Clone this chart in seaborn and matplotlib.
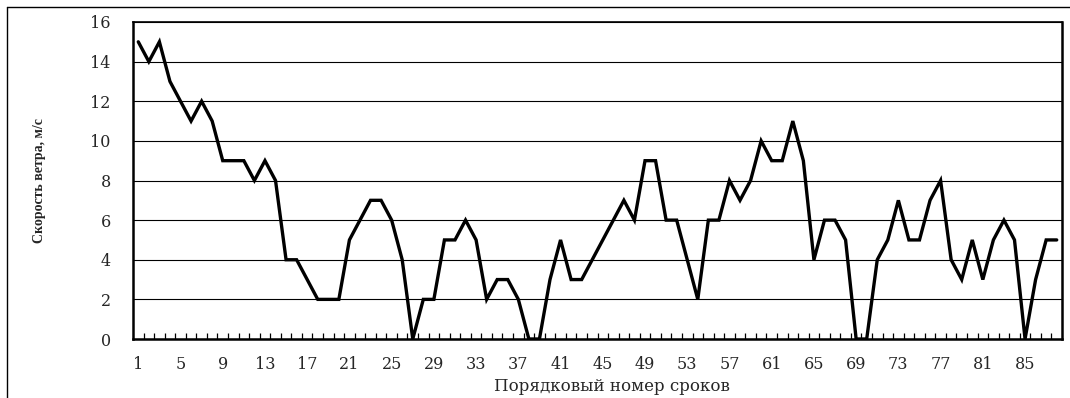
import numpy as np
import pandas as pd
import matplotlib
matplotlib.use("Agg")
import matplotlib.pyplot as plt
from matplotlib.lines import Line2D
import seaborn as sns

# Wind speed by observation number
term_number = list(range(1, 89))
wind_speed = [
    15, 14, 15, 13, 12, 11, 12, 11, 9, 9,
    9, 8, 9, 8, 4, 4, 3, 2, 2, 2,
    5, 6, 7, 7, 6, 4, 0, 2, 2, 5,
    5, 6, 5, 2, 3, 3, 2, 0, 0, 3,
    5, 3, 3, 4, 5, 6, 7, 6, 9, 9,
    6, 6, 4, 2, 6, 6, 8, 7, 8, 10,
    9, 9, 11, 9, 4, 6, 6, 5, 0, 0,
    4, 5, 7, 5, 5, 7, 8, 4, 3, 5,
    3, 5, 6, 5, 0, 3, 5, 5,
]
x_tick_labels = [str(n) for n in range(1, 89, 4)]
y_ticks = [0, 2, 4, 6, 8, 10, 12, 14, 16]

x_title = "Порядковый номер сроков"
y_title = "Скорость ветра, м/с"

sns.set_style("white")
plt.rcParams["font.family"] = ["DejaVu Serif"]

W, H = 1070, 398
fig = plt.figure(figsize=(W / 100, H / 100), dpi=100)
ax = fig.add_axes([133 / W, 1 - 339 / H, (1062 - 133) / W, (339 - 22) / H])

df = pd.DataFrame({"n": term_number, "v": wind_speed})
sns.lineplot(data=df, x="n", y="v", ax=ax, color="black", linewidth=2.4,
             solid_joinstyle="miter", zorder=3)

ax.set_xlim(0.5, len(term_number) + 0.5)
ax.set_ylim(0, 16)

# horizontal gridlines
ax.set_yticks(y_ticks)
ax.yaxis.grid(True, color="black", linewidth=0.8)
ax.xaxis.grid(False)
ax.set_axisbelow(True)

ax.tick_params(axis="y", length=0, pad=16, labelsize=11.5)
ax.set_xticks(list(range(1, 89, 4)))
ax.set_xticklabels(x_tick_labels)
ax.tick_params(axis="x", which="major", bottom=True, length=0, pad=12,
               labelsize=11.5)
ax.set_xticks(np.arange(1.5, len(term_number), 1.0), minor=True)
ax.tick_params(axis="x", which="minor", bottom=True, direction="in",
               length=4.5, width=0.9, color="black")

for side, lw in [("left", 1.8), ("bottom", 1.8), ("top", 1.2), ("right", 1.8)]:
    ax.spines[side].set_visible(True)
    ax.spines[side].set_color("black")
    ax.spines[side].set_linewidth(lw)

ax.set_xlabel(x_title, fontsize=12)
ax.xaxis.set_label_coords((612 - 133) / 929, (339 - 378) / 317)
ax.set_ylabel(y_title, fontsize=10, fontweight="bold",
              family=["Liberation Serif"])
ax.yaxis.set_label_coords((46 - 133) / 929, 0.5)

# outer frame of the chart area
fig.add_artist(Line2D([7 / W, 7 / W], [0, 1 - 7 / H], transform=fig.transFigure,
                      color="black", linewidth=1.0))
fig.add_artist(Line2D([7 / W, 1], [1 - 7 / H, 1 - 7 / H], transform=fig.transFigure,
                      color="black", linewidth=1.0))

fig.savefig("out.png", dpi=100)
